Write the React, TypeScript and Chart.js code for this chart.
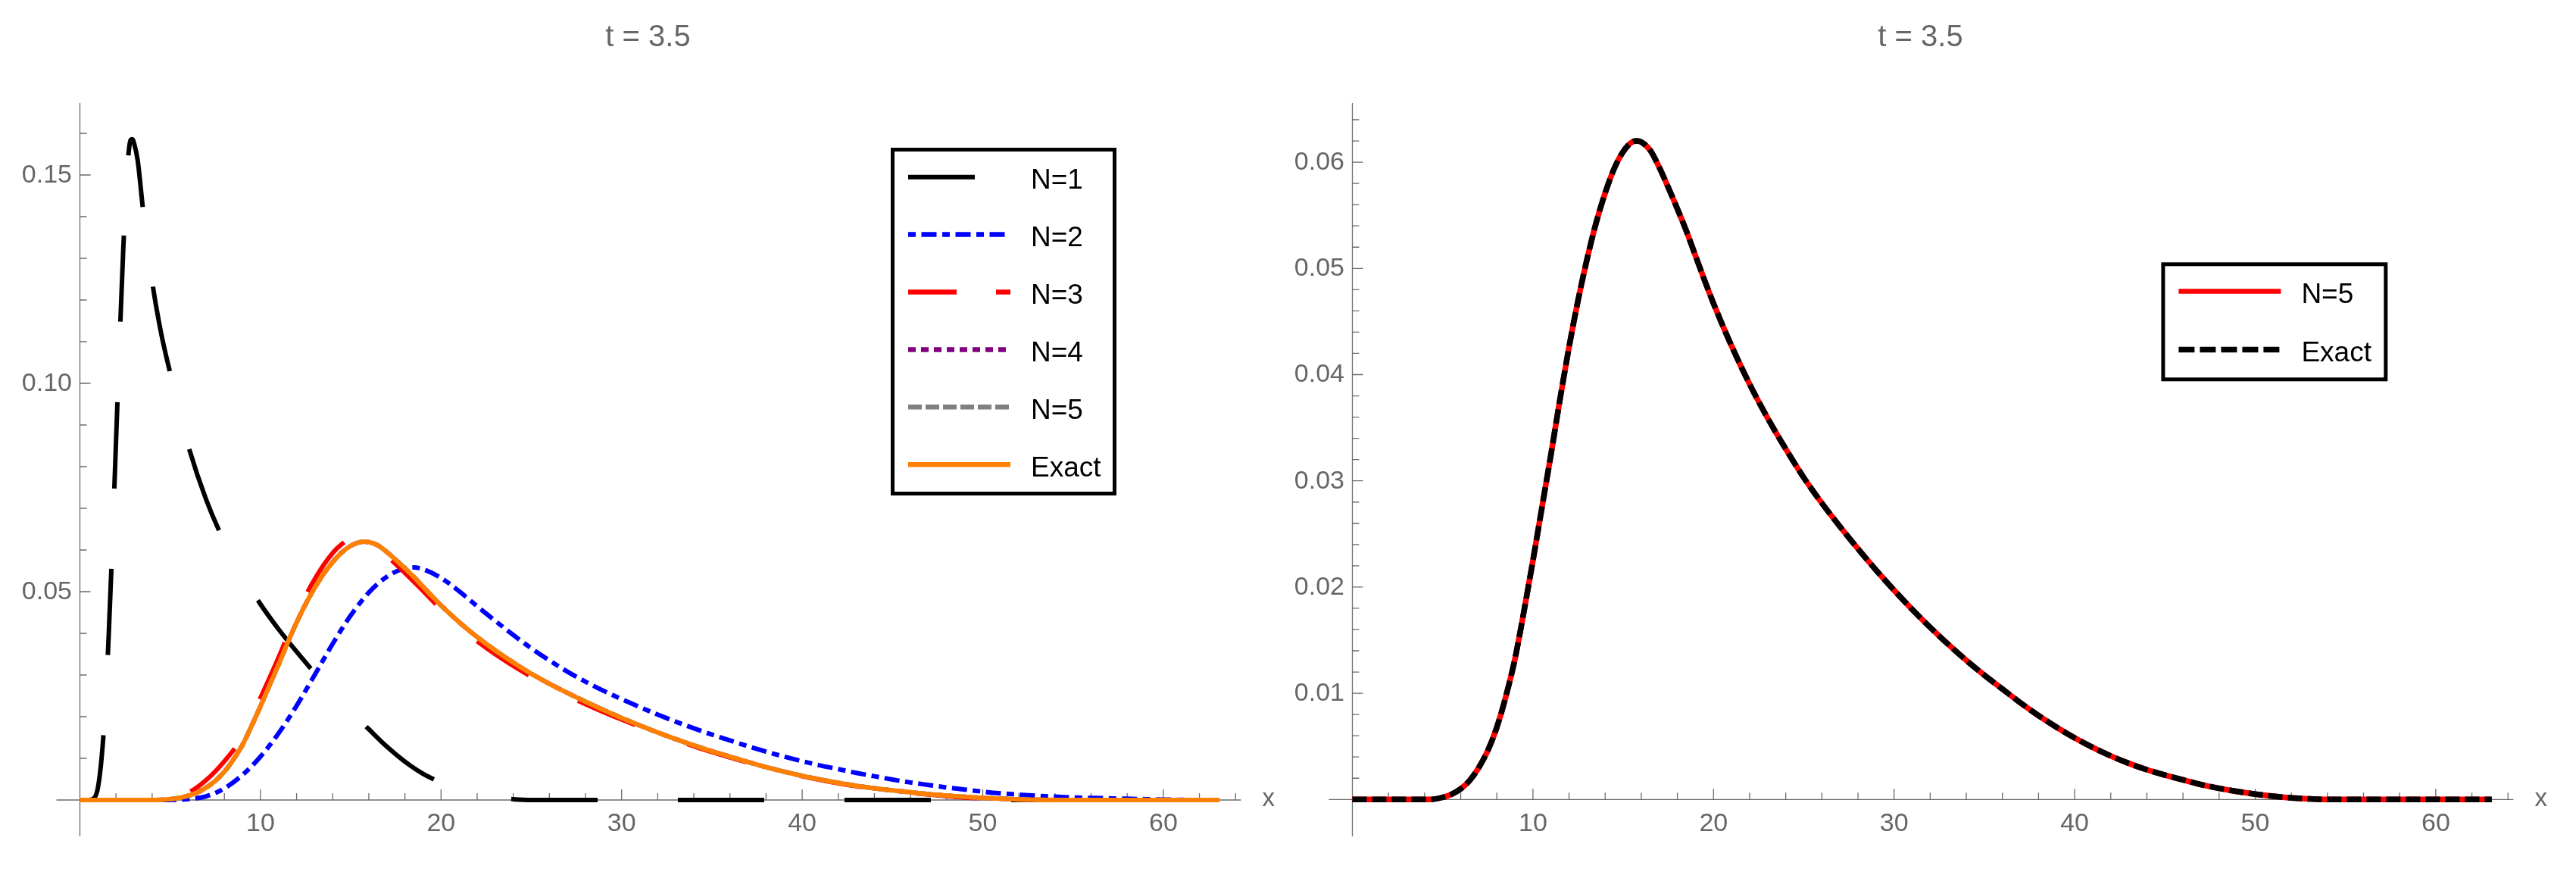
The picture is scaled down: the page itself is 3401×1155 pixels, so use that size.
import React, { useEffect, useRef } from "react";
import { Chart, registerables } from "chart.js";

Chart.register(...registerables);

// ---------------- data ----------------
const titleText = "t = 3.5";
const axisLabel = "x";

const xMajorTicks = [10, 20, 30, 40, 50, 60];
const xMajorLabels = ["10", "20", "30", "40", "50", "60"];
const leftYMajorTicks = [0.05, 0.1, 0.15];
const leftYMajorLabels = ["0.05", "0.10", "0.15"];
const rightYMajorTicks = [0.01, 0.02, 0.03, 0.04, 0.05, 0.06];
const rightYMajorLabels = ["0.01", "0.02", "0.03", "0.04", "0.05", "0.06"];

const leftLegendLabels = ["N=1", "N=2", "N=3", "N=4", "N=5", "Exact"];
const rightLegendLabels = ["N=5", "Exact"];

// N = 1
const n1X = [0, 0.5, 0.8, 1.0, 1.2, 1.4, 1.6, 1.8, 2.0, 2.2, 2.4, 2.6, 2.7, 2.8, 2.9, 3.0, 3.2, 3.5, 4.0, 4.5, 5, 5.5, 6, 7, 8, 9, 10, 11, 12, 13, 14, 15, 16, 17, 18, 19, 20, 21, 22, 23, 24, 25, 30, 35, 40, 45, 50, 55, 60, 63.1];
const n1Y = [0, 0, 0.0005, 0.003, 0.010, 0.022, 0.040, 0.062, 0.086, 0.110, 0.132, 0.150, 0.1555, 0.1583, 0.1586, 0.1576, 0.1535, 0.1415, 0.1245, 0.1120, 0.1025, 0.0935, 0.0850, 0.0720, 0.0620, 0.0540, 0.0470, 0.0410, 0.0356, 0.0305, 0.0258, 0.0213, 0.0170, 0.0128, 0.0092, 0.0063, 0.0042, 0.0026, 0.0014, 0.0006, 0.0002, 0, 0, 0, 0, 0, 0, 0, 0, 0];

// N = 2
const n2X = [0, 1, 2, 3, 4, 5, 5.5, 6, 7, 8, 9, 10, 11, 12, 13, 14, 15, 16, 17, 18, 18.5, 19, 20, 21, 22, 23, 24, 25, 26, 27, 28, 29, 30, 31, 32, 33, 34, 35, 36, 37, 38, 39, 40, 41, 42, 43, 44, 45, 46, 47, 48, 49, 50, 51, 52, 53, 54, 55, 56, 57, 58, 59, 60, 61, 62, 63.1];
const n2Y = [0, 0, 0, 0, 0, 0, 0.00005, 0.0002, 0.0009, 0.0028, 0.0060, 0.0104, 0.0160, 0.0226, 0.0300, 0.0375, 0.0443, 0.0498, 0.0536, 0.0556, 0.0558, 0.0554, 0.0533, 0.0501, 0.0465, 0.0430, 0.0396, 0.0364, 0.0335, 0.0308, 0.0284, 0.0262, 0.0242, 0.0223, 0.0205, 0.0188, 0.0172, 0.0157, 0.0143, 0.0129, 0.0116, 0.0104, 0.0093, 0.0083, 0.0074, 0.0065, 0.0057, 0.0049, 0.0042, 0.0036, 0.0030, 0.0025, 0.0020, 0.0016, 0.0013, 0.0010, 0.0008, 0.0006, 0.0005, 0.0004, 0.0003, 0.0002, 0.0001, 0.00005, 0, 0];

// N = 3
const n3X = [0, 1, 2, 3, 4, 5, 6, 7, 8, 9, 10, 11, 12, 13, 14, 14.5, 15, 15.5, 16, 17, 18, 19, 20, 21, 22, 23, 24, 25, 26, 27, 28, 29, 30, 31, 32, 33, 34, 35, 36, 37, 38, 39, 40, 41, 42, 43, 44, 45, 46, 47, 48, 49, 50, 51, 52, 55, 60, 63.1];
const n3Y = [0, 0, 0, 0, 0, 0.0003, 0.0017, 0.0048, 0.0093, 0.0152, 0.0245, 0.0342, 0.0445, 0.0530, 0.0593, 0.0614, 0.0626, 0.0626, 0.0616, 0.0585, 0.0545, 0.0502, 0.0457, 0.0417, 0.0381, 0.0350, 0.0322, 0.0296, 0.0272, 0.0250, 0.0230, 0.0211, 0.0193, 0.0176, 0.0160, 0.0144, 0.0129, 0.0115, 0.0102, 0.0090, 0.0078, 0.0067, 0.0057, 0.0048, 0.0040, 0.0033, 0.0027, 0.0022, 0.0017, 0.0013, 0.0009, 0.0006, 0.0004, 0.0002, 0.0001, 0, 0, 0];

// Exact (N = 4 and N = 5 coincide with it at this scale)
const exactX = [0, 1, 2, 3, 4, 4.5, 5, 5.5, 6, 6.5, 7, 7.5, 8, 8.5, 9, 9.5, 10, 10.5, 11, 11.5, 12, 12.5, 13, 13.5, 14, 14.5, 15, 15.5, 15.75, 16, 16.5, 17, 17.5, 18, 18.5, 19, 19.5, 20, 21, 22, 23, 24, 25, 26, 27, 28, 29, 30, 31, 32, 33, 34, 35, 36, 37, 38, 39, 40, 41, 42, 43, 44, 45, 46, 47, 48, 49, 50, 51, 52, 53, 54, 57, 60, 63.1];
const exactY = [0, 0, 0, 0, 0, 0.00003, 0.0002, 0.0005, 0.0010, 0.0018, 0.0030, 0.0046, 0.0068, 0.0097, 0.0132, 0.0177, 0.0225, 0.0275, 0.0325, 0.0377, 0.0426, 0.0470, 0.0509, 0.0543, 0.0571, 0.0594, 0.0610, 0.0619, 0.0620, 0.0619, 0.0611, 0.0595, 0.0576, 0.0556, 0.0535, 0.0512, 0.0489, 0.0467, 0.0427, 0.0391, 0.0359, 0.0330, 0.0303, 0.0279, 0.0257, 0.0236, 0.0216, 0.0197, 0.0179, 0.0162, 0.0146, 0.0131, 0.0117, 0.0104, 0.0091, 0.0079, 0.0068, 0.0058, 0.0049, 0.0041, 0.0034, 0.0028, 0.0023, 0.00185, 0.0014, 0.00105, 0.00075, 0.0005, 0.0003, 0.00015, 0.00005, 0, 0, 0, 0];
const n4X = exactX;
const n4Y = exactY;
const n5X = exactX;
const n5Y = exactY;

// ---------------- styling ----------------
const FONT = "'Liberation Sans', Arial, 'DejaVu Sans', sans-serif";
const AXIS_COLOR = "#6b6b6b";
const LABEL_COLOR = "#666666";
const X_MINOR_STEP = 2;
const X_TICK_MAX = 64;

const toPoints = (xs: number[], ys: number[]) => xs.map((x, i) => ({ x, y: ys[i] }));

function makeAxesPlugin(yTicks: number[], yLabels: string[], yMinorStep: number, yMinorMax: number) {
  return {
    id: "mmaAxes",
    beforeDatasetsDraw(chart: any) {
      const { ctx, chartArea: a } = chart;
      const xs = chart.scales.x;
      const ys = chart.scales.y;
      const x0 = xs.getPixelForValue(0);
      const y0 = ys.getPixelForValue(0);
      ctx.save();
      ctx.strokeStyle = AXIS_COLOR;
      ctx.lineWidth = 1.3;
      ctx.beginPath();
      ctx.moveTo(a.left, y0);
      ctx.lineTo(a.right, y0);
      ctx.moveTo(x0, a.top);
      ctx.lineTo(x0, a.bottom);
      for (let k = 1; k * X_MINOR_STEP <= X_TICK_MAX + 1e-9; k++) {
        const v = k * X_MINOR_STEP;
        const major = xMajorTicks.some((m) => Math.abs(m - v) < 1e-9);
        const px = xs.getPixelForValue(v);
        ctx.moveTo(px, y0);
        ctx.lineTo(px, y0 - (major ? 14 : 9));
      }
      for (let k = 1; k * yMinorStep <= yMinorMax + 1e-9; k++) {
        const v = k * yMinorStep;
        const major = yTicks.some((m) => Math.abs(m - v) < 1e-9);
        const py = ys.getPixelForValue(v);
        ctx.moveTo(x0, py);
        ctx.lineTo(x0 + (major ? 14 : 9), py);
      }
      ctx.stroke();

      ctx.fillStyle = LABEL_COLOR;
      ctx.font = `34px ${FONT}`;
      ctx.textBaseline = "alphabetic";
      ctx.textAlign = "center";
      xMajorTicks.forEach((v, i) => ctx.fillText(xMajorLabels[i], xs.getPixelForValue(v), y0 + 41.5));
      ctx.textAlign = "right";
      yTicks.forEach((v, i) => ctx.fillText(yLabels[i], x0 - 10.5, ys.getPixelForValue(v) + 10));

      ctx.font = `33px ${FONT}`;
      ctx.textAlign = "left";
      ctx.fillText(axisLabel, a.right + 28, y0 + 8.5);

      ctx.font = `40px ${FONT}`;
      ctx.textAlign = "center";
      ctx.fillText(titleText, x0 + 750, 61);
      ctx.restore();
    },
  };
}

type LegendItem = { label: string; color: string; width: number; dash: number[] };

function makeLegendPlugin(box: { x: number; y: number; w: number; h: number }, firstY: number, stepY: number, items: LegendItem[]) {
  return {
    id: "boxLegend",
    afterDatasetsDraw(chart: any) {
      const { ctx } = chart;
      ctx.save();
      ctx.fillStyle = "#ffffff";
      ctx.fillRect(box.x, box.y, box.w, box.h);
      ctx.strokeStyle = "#000000";
      ctx.lineWidth = 5;
      ctx.strokeRect(box.x, box.y, box.w, box.h);
      items.forEach((it, i) => {
        const cy = firstY + i * stepY;
        ctx.beginPath();
        ctx.setLineDash(it.dash);
        ctx.lineCap = "butt";
        ctx.strokeStyle = it.color;
        ctx.lineWidth = it.width;
        ctx.moveTo(box.x + 20.5, cy);
        ctx.lineTo(box.x + 155.5, cy);
        ctx.stroke();
        ctx.setLineDash([]);
        ctx.fillStyle = "#000000";
        ctx.font = `37px ${FONT}`;
        ctx.textAlign = "left";
        ctx.textBaseline = "alphabetic";
        ctx.fillText(it.label, box.x + 182.5, cy + 15.5);
      });
      ctx.restore();
    },
  };
}

function baseOptions(pad: any, yMin: number, yMax: number) {
  return {
    animation: false,
    responsive: false,
    devicePixelRatio: 1,
    events: [],
    layout: { padding: pad },
    scales: {
      x: { type: "linear", min: -1.3, max: 64.3, display: false },
      y: { type: "linear", min: yMin, max: yMax, display: false },
    },
    plugins: { legend: { display: false }, tooltip: { enabled: false }, title: { display: false } },
    elements: { point: { radius: 0 }, line: { cubicInterpolationMode: "monotone", borderJoinStyle: "round" } },
  };
}

function leftConfig(): any {
  return {
    type: "line",
    data: {
      datasets: [
        { label: leftLegendLabels[0], data: toPoints(n1X, n1Y), borderColor: "#000000", borderWidth: 6, borderDash: [114, 106], borderDashOffset: 10, order: 6 },
        { label: leftLegendLabels[1], data: toPoints(n2X, n2Y), borderColor: "#0000ff", borderWidth: 6, borderDash: [10, 7.5, 20, 7.5], order: 5 },
        { label: leftLegendLabels[2], data: toPoints(n3X, n3Y), borderColor: "#ff0000", borderWidth: 6, borderDash: [82, 73], borderDashOffset: 7, order: 4 },
        { label: leftLegendLabels[3], data: toPoints(n4X, n4Y), borderColor: "#800080", borderWidth: 6, borderDash: [10, 7], order: 3 },
        { label: leftLegendLabels[4], data: toPoints(n5X, n5Y), borderColor: "#808080", borderWidth: 6, borderDash: [18, 5], order: 2 },
        { label: leftLegendLabels[5], data: toPoints(exactX, exactY), borderColor: "#ff8000", borderWidth: 6, order: 1 },
      ],
    },
    options: baseOptions({ left: 74.5, right: 61.6, top: 136, bottom: 51 }, -0.00873, 0.16727),
    plugins: [
      makeAxesPlugin(leftYMajorTicks, leftYMajorLabels, 0.01, 0.16),
      makeLegendPlugin({ x: 1178.5, y: 197.5, w: 293, h: 454 }, 233.7, 75.9, [
        { label: leftLegendLabels[0], color: "#000000", width: 6, dash: [88, 200] },
        { label: leftLegendLabels[1], color: "#0000ff", width: 6.5, dash: [10, 7.5, 20, 7.5] },
        { label: leftLegendLabels[2], color: "#ff0000", width: 6.5, dash: [64, 52] },
        { label: leftLegendLabels[3], color: "#800080", width: 6.5, dash: [10, 7] },
        { label: leftLegendLabels[4], color: "#808080", width: 6.5, dash: [18, 5] },
        { label: leftLegendLabels[5], color: "#ff8000", width: 6.5, dash: [] },
      ]),
    ],
  };
}

function rightConfig(): any {
  return {
    type: "line",
    data: {
      datasets: [
        { label: rightLegendLabels[0], data: toPoints(n5X, n5Y), borderColor: "#ff0000", borderWidth: 7.5, order: 2 },
        { label: rightLegendLabels[1], data: toPoints(exactX, exactY), borderColor: "#000000", borderWidth: 7.5, borderDash: [19, 7], order: 1 },
      ],
    },
    options: baseOptions({ left: 54.5, right: 82.6, top: 136, bottom: 51 }, -0.003474, 0.06557),
    plugins: [
      makeAxesPlugin(rightYMajorTicks, rightYMajorLabels, 0.002, 0.064),
      makeLegendPlugin({ x: 1155.9, y: 348.8, w: 293.9, h: 152 }, 384.5, 76.9, [
        { label: rightLegendLabels[0], color: "#ff0000", width: 6.5, dash: [] },
        { label: rightLegendLabels[1], color: "#000000", width: 7.5, dash: [21, 7] },
      ]),
    ],
  };
}

function Panel({ build, left, width }: { build: () => any; left: number; width: number }) {
  const ref = useRef<HTMLCanvasElement>(null);
  useEffect(() => {
    const chart = new Chart(ref.current as HTMLCanvasElement, build());
    return () => chart.destroy();
  }, []);
  return (
    <canvas
      ref={ref}
      width={width}
      height={1155}
      style={{ position: "absolute", left, top: 0, width, height: 1155, display: "block" }}
    />
  );
}

export default function App() {
  return (
    <div style={{ position: "absolute", left: 0, top: 0, width: 3401, height: 1155, background: "#ffffff", overflow: "hidden" }}>
      <Panel build={leftConfig} left={0} width={1700} />
      <Panel build={rightConfig} left={1700} width={1701} />
    </div>
  );
}
